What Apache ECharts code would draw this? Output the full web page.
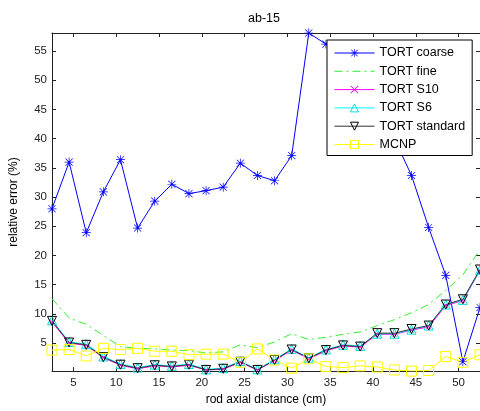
<!DOCTYPE html>
<html><head><meta charset="utf-8">
<script src="https://cdn.jsdelivr.net/npm/echarts@6/dist/echarts.min.js"></script>
<style>html,body{margin:0;padding:0;background:#fff}#c{width:480px;height:411px}</style>
</head><body><div id="c"></div>
<script>
const distances = [2.5,4.5,6.5,8.5,10.5,12.5,14.5,16.5,18.5,20.5,22.5,24.5,26.5,28.5,30.5,32.5,34.5,36.5,38.5,40.5,42.5,44.5,46.5,48.5,50.5,52.5];
const tortCoarse = [28.0,36.0,23.9,30.9,36.4,24.7,29.3,32.2,30.6,31.1,31.7,35.8,33.7,32.8,37.1,58.1,56.2,53.0,50.0,46.0,40.0,33.7,24.8,16.6,1.8,11.1];
const tortFine = [12.6,9.3,8.2,6.3,4.4,4.1,4.0,3.8,3.7,3.3,3.5,4.7,4.2,5.2,6.6,5.6,6.0,6.5,6.9,8.0,9.0,10.2,11.6,14.0,16.7,21.0];
const tortS10 = [8.6,5.0,4.6,2.5,1.2,0.6,1.1,0.9,1.2,0.4,0.5,1.7,0.4,2.0,3.8,2.3,3.7,4.5,4.3,6.5,6.5,7.2,7.8,11.4,12.3,17.4];
const tortS6 = [8.9,5.2,4.8,2.7,1.4,0.8,1.3,1.1,1.4,0.5,0.7,1.9,0.5,2.2,4.0,2.5,3.9,4.7,4.5,6.6,6.6,7.3,8.0,11.6,12.4,17.5];
const tortStandard = [8.8,5.1,4.7,2.6,1.3,0.7,1.2,1.0,1.3,0.4,0.6,1.8,0.4,2.1,3.9,2.4,3.8,4.6,4.4,6.7,6.7,7.4,8.0,11.6,12.5,17.6];
const mcnp = [3.8,3.9,2.8,4.1,3.9,4.1,3.6,3.6,3.0,3.1,3.1,1.7,4.0,2.1,0.7,2.3,1.0,0.8,1.1,0.9,0.4,0.2,0.3,2.7,1.7,3.0];
const xTicks = [5,10,15,20,25,30,35,40,45,50];
const yTicks = [5,10,15,20,25,30,35,40,45,50,55];

const FONT = 'Liberation Sans, Arial, sans-serif';
const pairs = arr => distances.map((d,i)=>[d,arr[i]]);
const STAR = 'path://M9.2,0L10.8,0L10.8,20L9.2,20ZM0,9.2L20,9.2L20,10.8L0,10.8ZM2.6,1.5L18.5,17.4L17.4,18.5L1.5,2.6ZM17.4,1.5L18.5,2.6L2.6,18.5L1.5,17.4Z';
const XMARK = 'path://M1.5,0L10,8.5L18.5,0L20,1.5L11.5,10L20,18.5L18.5,20L10,11.5L1.5,20L0,18.5L8.5,10L0,1.5Z';

function mk(name, data, color, symbol, size, opts) {
  return Object.assign({
    name, type:'line', data: pairs(data), symbol, symbolSize: size,
    lineStyle:{color, width:1}, itemStyle:{color}, emphasis:{disabled:true},
    animation:false, z:2
  }, opts||{});
}
const hollow = c => ({color:'rgba(0,0,0,0)', borderColor:c, borderWidth:1});

const chart = echarts.init(document.getElementById('c'), null, {renderer:'canvas'});
const axisLine = {show:true, lineStyle:{color:'#222', width:1}};
chart.setOption({
  animation:false,
  backgroundColor:'#fff',
  graphic:[{type:'text', x:264, y:19, style:{text:'ab-15', fill:'#000', font:'12.5px '+FONT, align:'center', verticalAlign:'middle', textAlign:'center', textVerticalAlign:'middle'}}],
  grid:{left:50, top:33, right:0, bottom:39, containLabel:false},
  xAxis:[{
    type:'value', min:2.5, max:52.5, position:'bottom',
    name:'rod axial distance (cm)', nameLocation:'middle', nameGap:22,
    nameTextStyle:{fontFamily:FONT, fontSize:12, color:'#000'},
    axisLine, splitLine:{show:false},
    axisTick:{inside:true, length:4, customValues:xTicks, lineStyle:{color:'#222'}},
    axisLabel:{customValues:xTicks, fontFamily:FONT, fontSize:11.5, color:'#222', margin:6}
  },{
    type:'value', min:2.5, max:52.5, position:'top',
    axisLine, splitLine:{show:false},
    axisTick:{inside:true, length:4, customValues:xTicks, lineStyle:{color:'#222'}},
    axisLabel:{show:false}
  }],
  yAxis:[{
    type:'value', min:0.2, max:58.1, position:'left',
    name:'relative error (%)', nameLocation:'middle', nameGap:32,
    nameTextStyle:{fontFamily:FONT, fontSize:12, color:'#000'},
    axisLine, splitLine:{show:false},
    axisTick:{inside:true, length:4, customValues:yTicks, lineStyle:{color:'#222'}},
    axisLabel:{customValues:yTicks, fontFamily:FONT, fontSize:11.5, color:'#222', margin:5}
  },{
    type:'value', min:0.2, max:58.1, position:'right',
    axisLine, splitLine:{show:false},
    axisTick:{inside:true, length:4, customValues:yTicks, lineStyle:{color:'#222'}},
    axisLabel:{show:false}
  }],
  legend:{
    orient:'vertical', left:327, top:40, itemWidth:40, itemHeight:10, itemGap:4.3,
    padding:[6,7,4,7], borderColor:'#000', borderWidth:1, backgroundColor:'#fff',
    lineStyle:{width:1}, itemStyle:{borderWidth:1},
    textStyle:{fontFamily:FONT, fontSize:12.5, color:'#000', lineHeight:14},
    data:['TORT coarse','TORT fine','TORT S10','TORT S6','TORT standard','MCNP']
  },
  series:[
    mk('TORT coarse', tortCoarse, '#0000ff', STAR, 9),
    mk('TORT fine', tortFine, '#33ee33', 'none', 0, {itemStyle:{color:'rgba(0,0,0,0)'}, lineStyle:{color:'#33ee33', width:1, type:[8,4,2,4]}, showSymbol:false}),
    mk('TORT S10', tortS10, '#ff00ff', XMARK, 5),
    mk('TORT S6', tortS6, '#00ffff', 'triangle', 9, {itemStyle:hollow('#00dddd'), lineStyle:{color:'#00ffff', width:1}}),
    mk('TORT standard', tortStandard, '#000000', 'triangle', 9, {symbolRotate:180, itemStyle:hollow('#000'), lineStyle:{color:'#333', width:1}}),
    mk('MCNP', mcnp, '#ffff00', 'rect', 10, {itemStyle:hollow('#ffff00'), lineStyle:{color:'#ffff00', width:1}})
  ]
});
</script></body></html>
